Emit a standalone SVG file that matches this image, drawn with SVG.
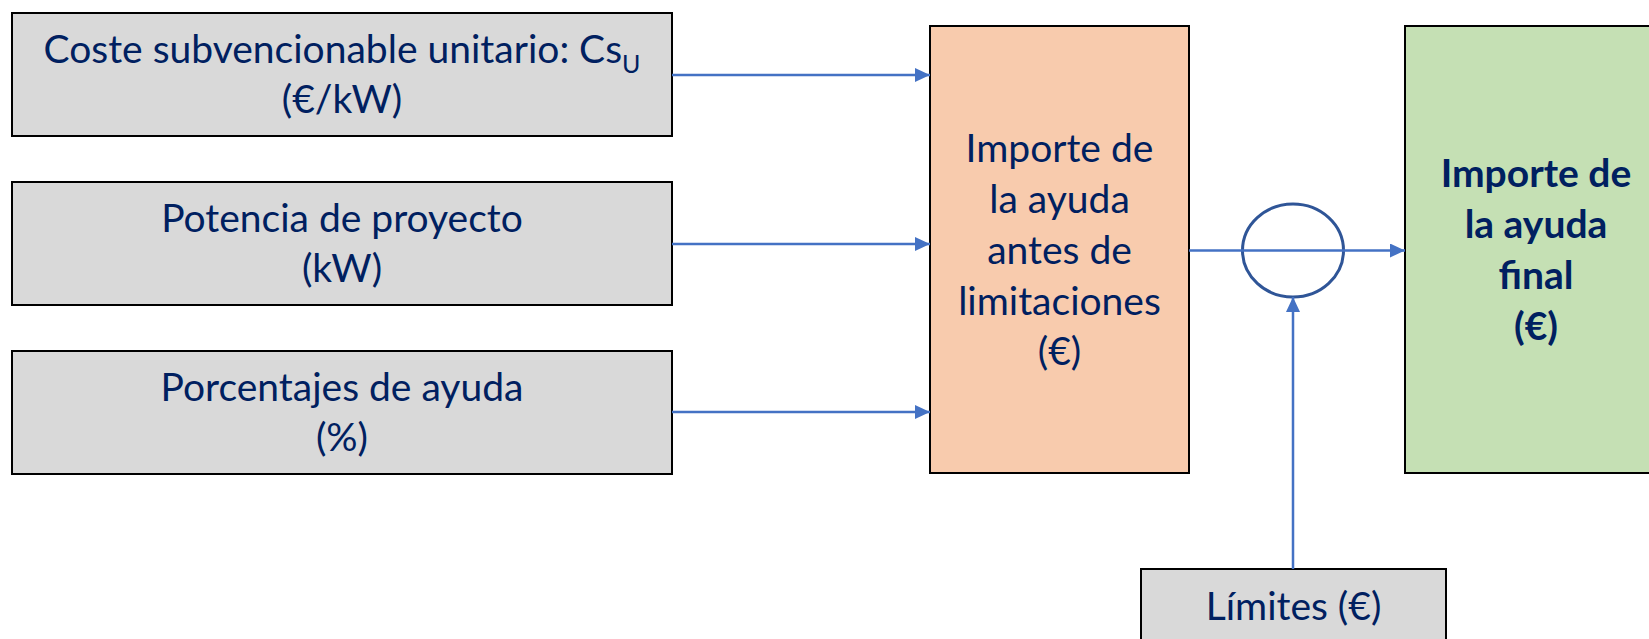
<svg xmlns="http://www.w3.org/2000/svg" width="1649" height="639" viewBox="0 0 1649 639">
  <style>
    .box { stroke: #000; stroke-width: 2; }
    .gray { fill: #D9D9D9; }
    .orange { fill: #F8CBAD; }
    .green { fill: #C5E0B4; }
    .t { font-family: Lato, "Open Sans", "Liberation Sans", sans-serif; font-size: 39px; fill: #002060; text-anchor: middle; }
    .b { font-weight: bold; }
    .conn { stroke: #4472C4; stroke-width: 2.5; fill: none; }
  </style>
  <defs>
    <marker id="arr" markerUnits="userSpaceOnUse" markerWidth="16" markerHeight="14" refX="15" refY="7" orient="auto">
      <path d="M0,0 L15,7 L0,14 z" fill="#4472C4"/>
    </marker>
  </defs>
  <rect width="1649" height="639" fill="#fff"/>

  <g id="n-coste">
    <rect class="box gray" x="12" y="13" width="660" height="123"/>
    <text class="t" x="342" y="63">Coste subvencionable unitario: Cs<tspan font-size="25" dy="10">U</tspan></text>
    <text class="t" x="342" y="113">(€/kW)</text>
  </g>
  <g id="n-potencia">
    <rect class="box gray" x="12" y="182" width="660" height="123"/>
    <text class="t" x="342" y="232">Potencia de proyecto</text>
    <text class="t" x="342" y="282">(kW)</text>
  </g>
  <g id="n-porcentajes">
    <rect class="box gray" x="12" y="351" width="660" height="123"/>
    <text class="t" x="342" y="401">Porcentajes de ayuda</text>
    <text class="t" x="342" y="451">(%)</text>
  </g>
  <g id="n-importe">
    <rect class="box orange" x="930" y="26" width="259" height="447"/>
    <text class="t" x="1059.5" y="162">Importe de</text>
    <text class="t" x="1059.5" y="213">la ayuda</text>
    <text class="t" x="1059.5" y="264">antes de</text>
    <text class="t" x="1059.5" y="315">limitaciones</text>
    <text class="t" x="1059.5" y="365">(€)</text>
  </g>
  <g id="n-final">
    <rect class="box green" x="1405" y="26" width="262" height="447"/>
    <text class="t b" x="1536" y="187">Importe de</text>
    <text class="t b" x="1536" y="238">la ayuda</text>
    <text class="t b" x="1536" y="289">final</text>
    <text class="t b" x="1536" y="340">(€)</text>
  </g>
  <g id="n-limites">
    <rect class="box gray" x="1141" y="569" width="305" height="80"/>
    <text class="t" x="1293.5" y="620">Límites (€)</text>
  </g>
  <g id="n-circle">
    <ellipse cx="1293" cy="250.5" rx="50.5" ry="46.5" fill="none" stroke="#2F5597" stroke-width="3"/>
  </g>

  <g id="connectors">
    <line class="conn" x1="672" y1="75" x2="930" y2="75" marker-end="url(#arr)"/>
    <line class="conn" x1="672" y1="244" x2="930" y2="244" marker-end="url(#arr)"/>
    <line class="conn" x1="672" y1="412" x2="930" y2="412" marker-end="url(#arr)"/>
    <line class="conn" x1="1189" y1="250.5" x2="1405" y2="250.5" marker-end="url(#arr)"/>
    <line class="conn" x1="1293" y1="569" x2="1293" y2="297" marker-end="url(#arr)"/>
  </g>
</svg>
